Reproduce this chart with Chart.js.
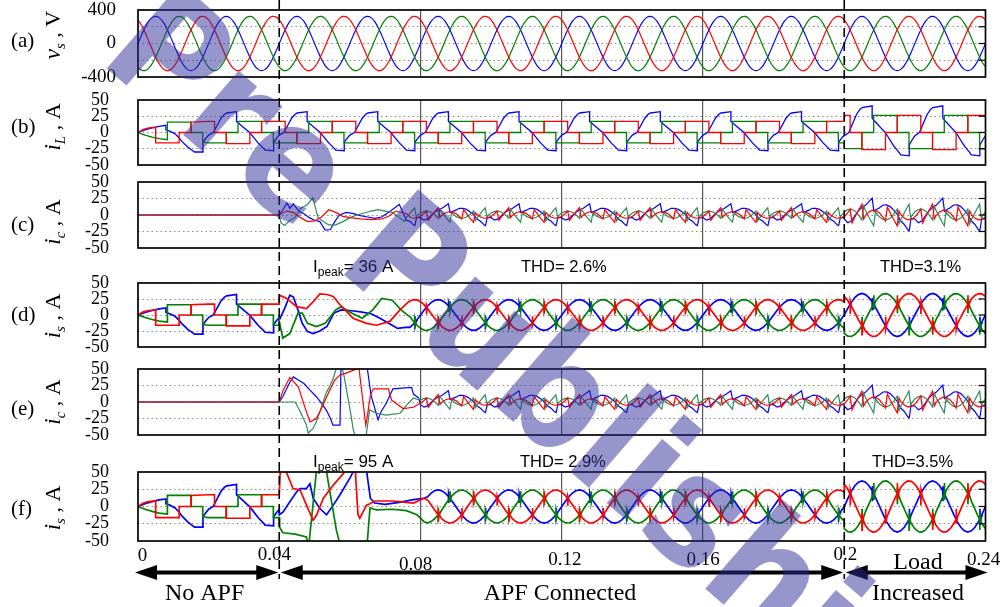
<!DOCTYPE html>
<html>
<head>
<meta charset="utf-8">
<script src="https://cdn.jsdelivr.net/npm/chart.js@4.4.1/dist/chart.umd.min.js"></script>
<style>
html, body { margin: 0; padding: 0; background: #fff; }
#wrap { position: relative; width: 1001px; height: 607px; overflow: hidden; }
.panel { position: absolute; left: 0; }
#overlay { position: absolute; left: 0; top: 0; pointer-events: none; z-index: 5; }
</style>
</head>
<body>
<div id="wrap"><canvas id="overlay" width="1001" height="607"></canvas></div>
<script>
// ---- time axis (ms) ----
const PERIOD_MS = 20;
const timeTickMs = [0, 40, 80, 120, 160, 200, 240];
const timeTickLabels = ['0', '0.04', '0.08', '0.12', '0.16', '0.2', '0.24'];
const gridMs = [80, 120, 160];
const eventMs = [40, 200];

// ---- (a) supply voltage, one 20 ms cycle sampled every 1 ms (V) ----
const vsRed   = [281, 217, 132, 34, -68, -163, -241, -297, -323, -318, -281, -217, -132, -34, 68, 163, 241, 297, 323, 318];
const vsGreen = [-281, -318, -323, -297, -241, -163, -68, 34, 132, 217, 281, 318, 323, 297, 241, 163, 68, -34, -132, -217];
const vsBlue  = [0, 100, 191, 263, 309, 325, 309, 263, 191, 100, 0, -100, -191, -263, -309, -325, -309, -263, -191, -100];

// ---- (b) load current: first cycle (start-up) and steady cycle, [ms, A] ----
const iLRedStart   = [[0,0],[1.5,5],[3,7],[5,8],[5,-16],[11.67,-16],[11.67,0],[15,0],[15,16]];
const iLGreenStart = [[0,0],[2,-4],[4,-7],[6,-9.5],[8.33,-11],[8.33,16],[15,16],[15,0],[18.33,0],[18.33,-15]];
const iLBlueStart  = [[0,0],[2,4],[4,7],[6,9.5],[7.9,11],[7.9,4],[9,2],[10.5,-2],[11.6,-8],[12.5,-14],[14,-22],[15.5,-28],[16,-30],[18.4,-30],[18.4,-15],[19.2,-9]];
const iLRed   = [[0,17],[1.67,17],[1.67,0],[5,0],[5,-17],[11.67,-17],[11.67,0],[15,0],[15,17]];
const iLGreen = [[0,-16],[5,-16],[5,0],[8.33,0],[8.33,17],[15,17],[15,0],[18.33,0],[18.33,-16]];
const iLBlue  = [[0,-4],[1.3,0],[2.5,12],[3.5,22],[4.5,28],[5.1,30],[7.9,32],[7.9,17],[9,12],[10.5,5],[11.6,0],[12.5,-6],[14,-16],[15.5,-24],[16,-27],[18.4,-28],[18.4,-15],[19.2,-9]];

// ---- compensating current, steady cycle [ms, A] ----
const icRed   = [[0,-2.1],[1,2.3],[1.67,6],[2.2,-8],[3,-2.3],[4,4.6],[5,11],[5.5,-4],[6,-0.7],[7,3.1],[8,4.9],[9,4.5],[10,2.1],[11,-2.3],[11.67,-6],[12.2,8],[13,2.3],[14,-4.6],[15,-11],[15.5,4],[16,0.7],[17,-3.1],[18,-4.9],[19,-4.5]];
const icGreen = [[0,3.1],[1,5.5],[2,5.9],[3,4.1],[4,0.3],[5,-5],[5.5,9],[6,4.6],[7,-2.3],[8,-8.9],[8.33,-11],[8.85,4],[9,2.3],[10,-2.1],[11,-4.5],[12,-4.9],[13,-3.1],[14,0.7],[15,6],[15.5,-9],[16,-4.6],[17,2.3],[18,8.9],[18.33,11],[18.85,-4],[19,-1.3]];
const icBlue  = [[0,-4],[1,-7.8],[2,-5.9],[3,-0.8],[4,4.1],[5,7.7],[6,9.8],[7,13.6],[7.9,17],[8.4,3.7],[9,5.2],[10,7.3],[11,10.1],[12,10.2],[13,8.5],[14,4.9],[15,0.7],[16,-6.1],[17,-9.6],[18,-14.9],[18.4,-16],[18.9,-3.8],[19,-3.7]];

// ---- source current with APF, steady cycle [ms, A] (sine with switching spikes) ----
const isRed   = [[0,20.8],[1,16.1],[1.67,11.1],[1.7,1],[1.75,15],[2.1,9],[3,2.5],[4,-5],[5,-12],[5.03,-22],[5.08,-6],[5.4,-13],[6,-17.8],[7,-21.9],[8,-23.9],[9,-23.5],[10,-20.8],[11,-16.1],[11.67,-12],[11.7,-2],[11.75,-16],[12.1,-9.5],[13,-2.5],[14,5],[15,12],[15.03,22],[15.08,6],[15.4,13],[16,17.8],[17,21.9],[18,23.9],[19,23.5]];
const isGreen = [[0,-20.8],[1,-23.5],[2,-23.9],[3,-21.9],[4,-17.8],[5,-12],[5.03,-2],[5.08,-18],[5.4,-11],[6,-5],[7,2.5],[8,9.8],[8.33,12],[8.36,22],[8.41,6],[8.7,13.5],[9,16.1],[10,20.8],[11,23.5],[12,23.9],[13,21.9],[14,17.8],[15,12],[15.03,2],[15.08,18],[15.4,11],[16,5],[17,-2.5],[18,-9.8],[18.33,-12],[18.36,-22],[18.41,-6],[18.7,-13.5],[19,-16.1]];
const isBlue  = [[0,0],[1,7.4],[2,14.1],[3,19.4],[4,22.8],[5,24],[6,22.8],[7,19.4],[7.9,14.8],[7.93,5],[7.98,19],[8.3,12],[9,7.4],[10,0],[11,-7.4],[12,-14.1],[13,-19.4],[14,-22.8],[15,-24],[16,-22.8],[17,-19.4],[18,-14.1],[18.4,-11.5],[18.43,-2],[18.48,-17],[18.8,-9],[19,-7.4]];

// ---- transients after APF connection, [ms, A] ----
const zeroBeforeApf = [[0,0],[40,0]];
const icRedC   = [[40,0],[42,6],[44,4],[46,-4],[48,-10],[50,-9],[52,-3],[54,8],[56,4],[58,-2],[60,-4],[63,-6],[66,-7],[69,-6],[71,-2],[73,6],[75,3],[76,2]];
const icGreenC = [[40,0],[40.5,-12],[41.5,-16],[43,-8],[44.5,-4],[46,10],[48,16],[49.5,26],[50.3,10],[51,-4],[52.5,-10],[54,-15],[56,-15],[58,-10],[60,-4],[62,0],[64,3],[66,6],[68,8],[70,6],[72,4],[74,-4],[75.5,-10],[76,-4]];
const icBlueC  = [[40,0],[41,8],[42.2,18],[43,10],[44,17],[45.5,6],[47,2],[48.5,-4],[50,-8],[51.5,-10],[53,-23],[54.5,-22],[55.5,-12],[57,0],[59,4],[61,2],[63,-1],[65,-3],[67,-5],[69,-3],[71,4],[73,12],[74,16],[75,4],[76,-8]];

const isRedD   = [[40,31],[42.1,26],[44.9,13],[47.7,10],[49.5,20],[51.5,33],[53.5,32],[55.3,29],[57.2,16],[60.9,-5],[64.7,-13],[67.5,-16],[71.3,-10],[74.2,8],[76.5,20]];
const isGreenD = [[40,-10],[41,-36],[43,-29],[45.3,3],[46.5,3],[48,-13],[50.5,-18],[53,-13],[56,8],[57.5,13],[60.5,3],[63.5,-5],[66.5,8],[69,26],[72,23],[74.5,8],[76.5,-1]];
const isBlueD  = [[40,-8],[41.5,10],[43,31],[44,28],[45.3,8],[46.5,-13],[48,-26],[49.6,-29],[51.5,-25],[53.5,-18],[55.5,3],[57.5,8],[60,7],[63,5],[66,2],[68.5,-5],[71,-13],[73.5,-21],[76.5,-19]];

const icRedE   = [[40,0],[41.1,18],[43,37],[45.4,23],[47.2,-7],[48.7,-30],[50.5,-25],[52.4,-5],[54.3,18],[55.7,33],[57.2,41],[58.6,43],[60,46],[61.9,50],[62.4,70],[62.6,50],[64.5,-35],[65,-20],[65.8,10],[66.6,20],[70.9,20],[71.8,3],[75.1,-10],[78,-8],[79.5,-3]];
const icGreenE = [[40,0],[44.5,0],[46,-15],[47.7,-35],[48.2,-47],[49.6,-40],[50.5,-30],[51.5,-15],[52.4,0],[53.4,15],[54.3,24],[55.3,36],[56.2,52],[57,60],[57.8,52],[58.4,38],[59,20],[60,-10],[60.9,-40],[61.6,-55],[64.5,-55],[65.6,-12],[67.5,-17],[70.3,-20],[74.2,-17],[76,-5],[78,6],[79.5,3]];
const icBlueE  = [[40,0],[41,8],[43,30],[44,38],[45.5,33],[47,28],[48.7,18],[50.5,8],[52,-2],[53.4,-13],[54.5,-25],[55.2,-35],[57.2,-35],[57.5,60],[64.7,60],[66,10],[68,-27],[68.8,-15],[70.3,-2],[72.2,20],[77.5,22],[78,12],[79.5,6]];

const isRedF   = [[40,17],[40.3,55],[41.6,55],[43.9,26],[45.9,24],[47.7,2],[49.6,-20],[50.6,-12],[52.5,12],[55.3,31],[58.5,50],[59.5,60],[61.5,55],[62.3,-12],[62.8,-17],[63.8,-7],[64.7,2],[65.7,4],[67,8],[72,8],[78,5],[81,12]];
const isGreenF = [[40,-16],[40.2,-30],[41,-38],[44.5,-40],[47.7,-44],[48.3,-60],[50.6,55],[52,60],[53.4,50],[56.2,-35],[57.5,-60],[64.8,-60],[65.7,-2],[67.5,-5],[72,-4],[76,-6],[79,-12],[81,-22]];
const isBlueF  = [[40,-12],[41.1,-8],[43,7],[44.9,21],[45.9,26],[47.7,26],[48.7,33],[49.6,12],[51.5,-3],[53.4,-12],[55.3,2],[57.2,17],[60,41],[60.9,50],[61.5,60],[64.5,60],[65.8,12],[67,5],[70,3],[74,6],[78,10],[81,12]];

// ---- gains of the steady cycle after the load step at 0.2 s ----
const gainIL = 1.55;
const gainILBlue = 1.28;
const gainIcC = 1.5;
const gainIsD = 1.4;
const gainIcE = 1.5;
const gainIsF = 1.55;

// ---- texts ----
const peakTexts = ['36', '95'];
const thdTexts = [['THD= 2.6%', 'THD=3.1%'], ['THD= 2.9%', 'THD=3.5%']];
const regionTexts = ['No APF', 'APF Connected'];

// ---- helpers ----
function evenPairs(values) {
  return values.map((v, i) => [i * PERIOD_MS / values.length, v]);
}
function tile(cycle, from, to, gain) {
  const pts = [];
  for (let p = Math.floor(from / PERIOD_MS) * PERIOD_MS; p <= to; p += PERIOD_MS) {
    cycle.forEach(([ms, v]) => {
      const t = p + ms;
      if (t >= from && t <= to) pts.push({ x: t, y: v * gain });
    });
  }
  return pts;
}
function pts(list) {
  return list.map(([ms, v]) => ({ x: ms, y: v }));
}

const RED = '#ff0000', GREEN = '#008000', GREEN2 = '#2e8b57', BLUE = '#0000ff';
function lines(red, green, blue, width, greenColor, tension) {
  const mk = (data, color) => ({ data, borderColor: color, borderWidth: width, pointRadius: 0, fill: false, tension: tension || 0 });
  return [mk(red, RED), mk(green, greenColor || GREEN), mk(blue, BLUE)];
}

const loadRed   = [...pts(iLRedStart), ...tile(iLRed, 20, 200, 1)];
const loadGreen = [...pts(iLGreenStart), ...tile(iLGreen, 20, 200, 1)];
const loadBlue  = [...pts(iLBlueStart), ...tile(iLBlue, 20, 200, 1)];
const noApf = s => s.filter(p => p.x <= 40);

const PLOT_LEFT = 138, PLOT_RIGHT = 985.5, PAD = 48;

const panelDefs = [
  { letter: '(a)', sym: 'v', sub: 's', unit: ' , V', top: 10, bottom: 77, letterY: 41, nameY: 35,
    min: -400, max: 400, ticks: [-400, -200, 0, 200, 400], shown: [-400, 0, 400], labelPad: 22, fontSize: 19,
    datasets: lines(tile(evenPairs(vsRed), 0, 240, 1), tile(evenPairs(vsGreen), 0, 240, 1), tile(evenPairs(vsBlue), 0, 240, 1), 1.2, GREEN, 0.3) },
  { letter: '(b)', sym: 'i', sub: 'L', unit: ' , A', top: 100, bottom: 165, letterY: 127, nameY: 127,
    datasets: lines([...loadRed, ...tile(iLRed, 200, 240, gainIL)], [...loadGreen, ...tile(iLGreen, 200, 240, gainIL)], [...loadBlue, ...tile(iLBlue, 200, 240, gainILBlue)], 1.3) },
  { letter: '(c)', sym: 'i', sub: 'c', unit: ' , A', top: 182, bottom: 248, letterY: 225, nameY: 222,
    datasets: lines(
      [...pts(zeroBeforeApf), ...pts(icRedC), ...tile(icRed, 77, 200, 1), ...tile(icRed, 200, 240, gainIcC)],
      [...pts(zeroBeforeApf), ...pts(icGreenC), ...tile(icGreen, 77, 200, 1), ...tile(icGreen, 200, 240, gainIcC)],
      [...pts(zeroBeforeApf), ...pts(icBlueC), ...tile(icBlue, 77, 200, 1), ...tile(icBlue, 200, 240, gainIcC)], 1.2, GREEN2) },
  { letter: '(d)', sym: 'i', sub: 's', unit: ' , A', top: 283, bottom: 347, letterY: 315, nameY: 316,
    datasets: lines(
      [...noApf(loadRed), ...pts(isRedD), ...tile(isRed, 77, 200, 1), ...tile(isRed, 200, 240, gainIsD)],
      [...noApf(loadGreen), ...pts(isGreenD), ...tile(isGreen, 77, 200, 1), ...tile(isGreen, 200, 240, gainIsD)],
      [...noApf(loadBlue), ...pts(isBlueD), ...tile(isBlue, 77, 200, 1), ...tile(isBlue, 200, 240, gainIsD)], 1.7) },
  { letter: '(e)', sym: 'i', sub: 'c', unit: ' , A', top: 369, bottom: 435, letterY: 409, nameY: 402,
    datasets: lines(
      [...pts(zeroBeforeApf), ...pts(icRedE), ...tile(icRed, 80, 200, 1), ...tile(icRed, 200, 240, gainIcE)],
      [...pts(zeroBeforeApf), ...pts(icGreenE), ...tile(icGreen, 80, 200, 1), ...tile(icGreen, 200, 240, gainIcE)],
      [...pts(zeroBeforeApf), ...pts(icBlueE), ...tile(icBlue, 80, 200, 1), ...tile(icBlue, 200, 240, gainIcE)], 1.2, GREEN2) },
  { letter: '(f)', sym: 'i', sub: 's', unit: ' , A', top: 472, bottom: 541, letterY: 509, nameY: 508,
    datasets: lines(
      [...noApf(loadRed), ...pts(isRedF), ...tile(isRed, 82, 200, 1), ...tile(isRed, 200, 240, gainIsF)],
      [...noApf(loadGreen), ...pts(isGreenF), ...tile(isGreen, 82, 200, 1), ...tile(isGreen, 200, 240, gainIsF)],
      [...noApf(loadBlue), ...pts(isBlueF), ...tile(isBlue, 82, 200, 1), ...tile(isBlue, 200, 240, gainIsF)], 1.7) }
];

const framePlugin = {
  id: 'frame',
  afterDraw(chart) {
    const { ctx, chartArea: a, scales } = chart;
    ctx.save();
    ctx.strokeStyle = '#000';
    ctx.lineWidth = 1.2;
    scales.y.ticks.forEach(t => {
      if (t.value === scales.y.min || t.value === scales.y.max) return;
      const y = scales.y.getPixelForValue(t.value);
      ctx.beginPath(); ctx.moveTo(a.right - 7, y); ctx.lineTo(a.right, y); ctx.stroke();
    });
    ctx.lineWidth = 1.7;
    ctx.strokeRect(a.left, a.top, a.right - a.left, a.bottom - a.top);
    ctx.restore();
  }
};

const wrap = document.getElementById('wrap');
const charts = [];

panelDefs.forEach(p => {
  const canvas = document.createElement('canvas');
  canvas.className = 'panel';
  canvas.width = 1001;
  canvas.height = p.bottom - p.top + 2 * PAD;
  canvas.style.top = (p.top - PAD) + 'px';
  wrap.insertBefore(canvas, document.getElementById('overlay'));

  const yMin = p.min !== undefined ? p.min : -50;
  const yMax = p.max !== undefined ? p.max : 50;
  const yTicks = p.ticks || [-50, -25, 0, 25, 50];
  const shown = p.shown || yTicks;

  charts.push(new Chart(canvas.getContext('2d'), {
    type: 'line',
    data: { datasets: p.datasets },
    options: {
      responsive: false,
      animation: false,
      devicePixelRatio: 1,
      parsing: false,
      events: [],
      layout: { padding: { top: PAD, bottom: PAD, left: 0, right: 1001 - PLOT_RIGHT } },
      plugins: { legend: { display: false }, tooltip: { enabled: false } },
      scales: {
        x: {
          type: 'linear', min: 0, max: 240,
          afterBuildTicks: s => { s.ticks = gridMs.map(v => ({ value: v })); },
          afterFit: s => { s.height = 0; },
          ticks: { display: false },
          grid: { color: '#555', lineWidth: 1.2, drawTicks: false },
          border: { display: false }
        },
        y: {
          type: 'linear', min: yMin, max: yMax,
          afterBuildTicks: s => { s.ticks = yTicks.map(v => ({ value: v })); },
          afterFit: s => { s.width = PLOT_LEFT; },
          ticks: {
            autoSkip: false,
            padding: p.labelPad || 29,
            color: '#000',
            font: { family: 'Liberation Serif', size: p.fontSize || 18 },
            callback: v => shown.includes(v) ? String(v) : ''
          },
          grid: {
            drawTicks: false,
            lineWidth: 1,
            color: c => (c.tick && Math.abs(c.tick.value) === yMax) ? 'rgba(0,0,0,0)' : '#8a8a8a'
          },
          border: { display: false, dash: [1.5, 3] }
        }
      }
    },
    plugins: [framePlugin]
  }));
});

function drawQuantity(ctx, cx, cy, sym, sub, unit) {
  ctx.save();
  ctx.translate(cx, cy);
  ctx.rotate(-Math.PI / 2);
  const f1 = 'italic 23px "Liberation Serif"', f2 = 'italic 15px "Liberation Serif"', f3 = '22px "Liberation Serif"';
  ctx.font = f1; const w1 = ctx.measureText(sym).width;
  ctx.font = f2; const w2 = ctx.measureText(sub).width;
  ctx.font = f3; const w3 = ctx.measureText(unit).width;
  let x = -(w1 + w2 + w3) / 2;
  ctx.textAlign = 'left'; ctx.textBaseline = 'alphabetic';
  ctx.font = f1; ctx.fillText(sym, x, 8); x += w1;
  ctx.font = f2; ctx.fillText(sub, x, 13); x += w2;
  ctx.font = f3; ctx.fillText(unit, x, 8);
  ctx.restore();
}

function drawPeak(ctx, x, y, value) {
  ctx.textAlign = 'left'; ctx.textBaseline = 'alphabetic';
  ctx.font = '17px "Liberation Sans"';
  ctx.fillText('I', x, y);
  let w = ctx.measureText('I').width;
  ctx.font = '12px "Liberation Sans"';
  ctx.fillText('peak', x + w, y + 4);
  w += ctx.measureText('peak').width;
  ctx.font = '17px "Liberation Sans"';
  ctx.fillText('= ' + value + ' A', x + w, y);
}

function arrowHead(ctx, tipX, y, dir) {
  ctx.beginPath();
  ctx.moveTo(tipX, y);
  ctx.lineTo(tipX - dir * 22, y - 7.5);
  ctx.lineTo(tipX - dir * 22, y + 7.5);
  ctx.closePath();
  ctx.fill();
}

function drawOverlay() {
  const ctx = document.getElementById('overlay').getContext('2d');
  const xs = charts[charts.length - 1].scales.x;
  const px = ms => xs.getPixelForValue(ms);
  ctx.fillStyle = '#000';
  ctx.strokeStyle = '#000';

  // panel names
  panelDefs.forEach(p => {
    ctx.font = '21px "Liberation Serif"';
    ctx.textAlign = 'left'; ctx.textBaseline = 'middle';
    ctx.fillText(p.letter, 11, p.letterY);
    drawQuantity(ctx, 52, p.nameY, p.sym, p.sub, p.unit);
  });

  // event lines (APF on, load step)
  ctx.save();
  ctx.lineWidth = 1.6;
  ctx.setLineDash([9, 5]);
  eventMs.forEach(ms => {
    ctx.beginPath(); ctx.moveTo(px(ms), 0); ctx.lineTo(px(ms), 579); ctx.stroke();
  });
  ctx.restore();

  // time tick labels
  const tickDx = [4.5, -5, -5, 3, 0, 1, -2];
  const tickY = [556, 555, 565, 560, 560, 555, 560];
  ctx.font = '19px "Liberation Serif"';
  ctx.textAlign = 'center'; ctx.textBaseline = 'middle';
  timeTickMs.forEach((ms, i) => ctx.fillText(timeTickLabels[i], px(ms) + tickDx[i], tickY[i]));

  // region arrows
  const ay = 572.5;
  const spans = [[0, 40], [40, 200], [200, 240]];
  ctx.lineWidth = 4;
  spans.forEach(([a, b]) => {
    const xa = px(a) + (a === 0 ? -3 : 1.5);
    const xb = px(b) + (b === 240 ? 2 : -1);
    ctx.beginPath(); ctx.moveTo(xa + 15, ay); ctx.lineTo(xb - 15, ay); ctx.stroke();
    arrowHead(ctx, xa, ay, -1);
    arrowHead(ctx, xb, ay, 1);
  });
  ctx.font = '24px "Liberation Serif"';
  ctx.textAlign = 'center'; ctx.textBaseline = 'alphabetic';
  ctx.fillText(regionTexts[0], (px(0) + px(40)) / 2 - 4, 600);
  ctx.fillText(regionTexts[1], 560, 600);
  ctx.fillText('Load', 918, 569);
  ctx.fillText('Increased', 918, 600);

  // annotations
  drawPeak(ctx, 313, 272, peakTexts[0]);
  drawPeak(ctx, 313, 467, peakTexts[1]);
  ctx.font = '16.5px "Liberation Sans"';
  ctx.textAlign = 'left';
  ctx.fillText(thdTexts[0][0], 521, 272);
  ctx.fillText(thdTexts[0][1], 880, 272);
  ctx.fillText(thdTexts[1][0], 520, 467);
  ctx.fillText(thdTexts[1][1], 872, 467);

  // watermark
  ctx.save();
  ctx.translate(97, 60);
  ctx.rotate(41 * Math.PI / 180);
  ctx.scale(0.9, 1);
  ctx.font = 'bold 155px "DejaVu Sans"';
  ctx.fillStyle = 'rgba(45, 45, 155, 0.5)';
  ctx.textAlign = 'left'; ctx.textBaseline = 'alphabetic';
  ctx.fillText('Pre Publishing', 0, 0);
  ctx.restore();
}
drawOverlay();
</script>
</body>
</html>
